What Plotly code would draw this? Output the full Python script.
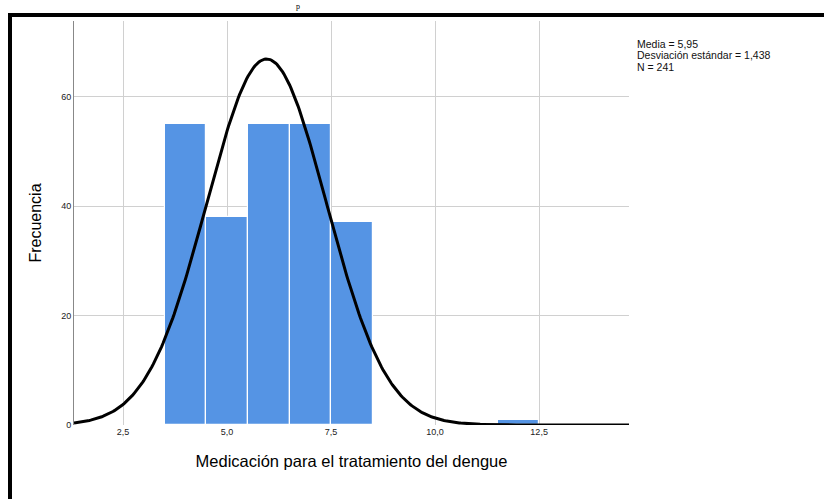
import numpy as np
import plotly.graph_objects as go

# Data
bin_left = [3.5, 4.5, 5.5, 6.5, 7.5, 11.5]
bin_right = [4.5, 5.5, 6.5, 7.5, 8.5, 12.5]
counts = [55, 38, 55, 55, 37, 1]
mean_val = 5.95
sd_val = 1.438
n_total = 241
x_ticks = [2.5, 5.0, 7.5, 10.0, 12.5]
y_ticks = [0, 20, 40, 60]
stats_lines = [
    "Media = 5,95",
    "Desviación estándar = 1,438",
    "N = 241",
]

W, H = 824, 499
L, R, T, B = 74, 629, 21, 425
xr = [1.32, 14.66]
yr = [0, 73.8]

def px_x(p):
    return (p - L) / (R - L)

def px_y(p):
    return (B - p) / (B - T)

centers = [(a + b) / 2 for a, b in zip(bin_left, bin_right)]
widths = [b - a for a, b in zip(bin_left, bin_right)]

fig = go.Figure()
fig.add_trace(go.Bar(
    x=centers, y=counts, width=widths,
    marker=dict(color="#5594E4", line=dict(color="#FFFFFF", width=1.2)),
    hoverinfo="x+y", showlegend=False,
))

# Normal curve scaled to counts (bin width 1) from stated mean / sd / N
xs = np.linspace(xr[0], xr[1], 400)
binw = 1.0
ys = n_total * binw / (sd_val * np.sqrt(2 * np.pi)) * np.exp(-0.5 * ((xs - mean_val) / sd_val) ** 2)
fig.add_trace(go.Scatter(x=xs, y=ys, mode="lines",
                         line=dict(color="#000000", width=3),
                         showlegend=False, hoverinfo="skip"))

annotations = []
for i, line in enumerate(stats_lines):
    annotations.append(dict(
        xref="paper", yref="paper",
        x=px_x(635), y=px_y(44 + 11.5 * i),
        xanchor="left", yanchor="middle", align="left", showarrow=False,
        text=line, font=dict(size=10.5, family="Liberation Sans, Arial", color="#111")))
annotations.append(dict(
    xref="paper", yref="paper",
    x=px_x(298), y=px_y(0),
    xanchor="center", yanchor="top", showarrow=False,
    text="p", font=dict(size=8, family="Liberation Serif, Times New Roman", color="#000")))

fig.update_layout(
    width=W, height=H,
    margin=dict(l=L, r=W - R, t=T, b=H - B, pad=0),
    paper_bgcolor="white", plot_bgcolor="white",
    separators=", ",
    bargap=0,
    font=dict(family="Arial, Liberation Sans, sans-serif", color="#000000"),
    xaxis=dict(
        range=xr, tickvals=x_ticks, tickformat=".1f",
        showgrid=True, gridcolor="#D0D0D0", gridwidth=1,
        showline=False, zeroline=False, ticks="",
        tickfont=dict(size=9, family="Liberation Sans Narrow, Arial Narrow, Arial", color="#222"),
        title=dict(text="Medicación para el tratamiento del dengue",
                   font=dict(size=16.5, family="Liberation Sans, Arial"), standoff=19),
    ),
    yaxis=dict(
        range=yr, tickvals=y_ticks,
        showgrid=True, gridcolor="#D0D0D0", gridwidth=1,
        showline=True, linecolor="#888888", linewidth=1,
        zeroline=False, ticks="",
        tickfont=dict(size=9, color="#222"),
        title=dict(text="Frecuencia", font=dict(size=16, family="Liberation Sans, Arial"), standoff=15),
    ),
    annotations=annotations,
    shapes=[
        dict(type="line", xref="paper", yref="paper",
             x0=px_x(8), x1=px_x(840),
             y0=px_y(15), y1=px_y(15),
             line=dict(color="#000000", width=4)),
        dict(type="line", xref="paper", yref="paper",
             x0=px_x(10), x1=px_x(10),
             y0=px_y(13), y1=px_y(520),
             line=dict(color="#000000", width=4)),
    ],
)

fig.write_html("out.html", config={"displayModeBar": False},
               post_script="document.body.style.margin='0';")
